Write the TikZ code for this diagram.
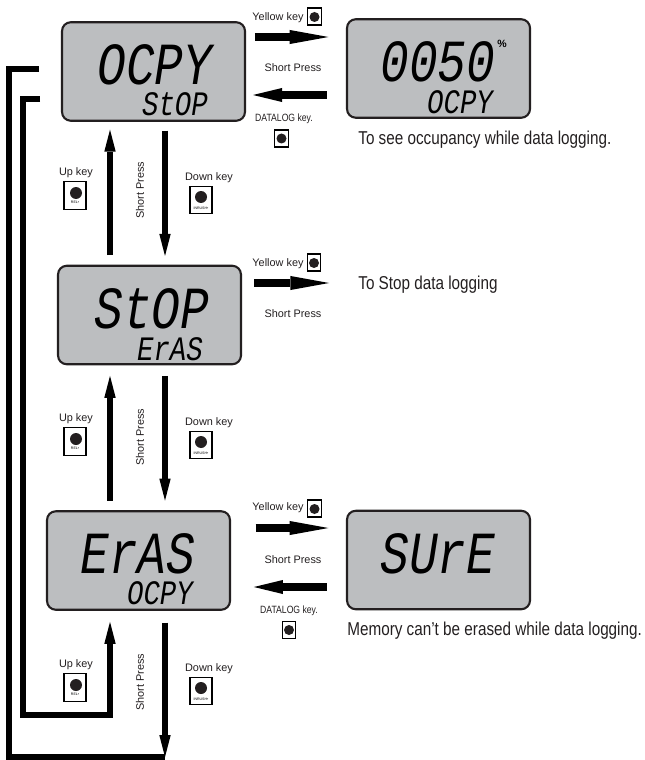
\documentclass[tikz,border=0pt]{standalone}
\usepackage{fontspec}
\setmainfont{Liberation Sans}
\newfontfamily\lcdfont[FakeStretch=0.8]{Liberation Mono}
\newfontfamily\notefont[FakeStretch=0.82]{Liberation Sans}
\usetikzlibrary{arrows.meta, positioning, calc}
\definecolor{lcdgray}{HTML}{BCBEC0}
\definecolor{inkgray}{HTML}{231F20}
\tikzset{
  lcdbox/.style={draw=inkgray, line width=1.2pt, fill=lcdgray, rounded corners=5pt, minimum width=3.66cm, minimum height=1.97cm, inner sep=0pt},
  lcdbig/.style={inner sep=0pt, text height=23pt, text depth=0pt, font=\lcdfont\itshape\fontsize{34}{34}\selectfont},
  lcdsmall/.style={inner sep=0pt, text height=13.5pt, text depth=0pt, font=\lcdfont\itshape\fontsize{19.5}{19.5}\selectfont},
  keylabel/.style={inner sep=0pt, text=inkgray, font=\fontsize{6.2}{7}\selectfont},
  datalabel/.style={inner sep=0pt, text=inkgray, font=\notefont\fontsize{6}{7}\selectfont},
  notelabel/.style={inner sep=0pt, anchor=west, text=inkgray, font=\notefont\fontsize{10.6}{12}\selectfont},
  smallkey/.style={draw=black, line width=0.7pt, fill=white, minimum width=0.27cm, minimum height=0.34cm, inner sep=0pt},
  bigkey/.style={draw=black, line width=0.6pt, fill=white, minimum width=0.44cm, minimum height=0.55cm, inner sep=0pt},
  smalldot/.style={circle, fill=inkgray, minimum size=0.2cm, inner sep=0pt},
  bigdot/.style={circle, fill=inkgray, minimum size=0.24cm, inner sep=0pt},
  tinylabel/.style={inner sep=0pt, font=\fontsize{2}{2}\selectfont},
  flowright/.style={-{Triangle[length=22pt, width=8pt, line width=0pt]}, line width=4pt},
  flowleft/.style={-{Triangle[length=16.5pt, width=8pt, line width=0pt]}, line width=4pt},
  flowvert/.style={-{Triangle[length=12.5pt, width=6.5pt, line width=0pt]}, line width=3.2pt},
  flowline/.style={line width=3pt, line join=miter}
}

\begin{document}
\begin{tikzpicture}[x=0.02cm, y=-0.02cm]
  \useasboundingbox (0,0) rectangle (645,760);

  % Displays
  \node[lcdbox] (lcdOcpy) at (153.5,71.5) {};
  \node[lcdbox] (lcdLevel) at (438.5,68.5) {};
  \node[lcdbox] (lcdStop) at (149.5,315) {};
  \node[lcdbox] (lcdEras) at (138.5,560.5) {};
  \node[lcdbox] (lcdSure) at (438.5,560) {};

  \node[lcdbig] (bigOcpy) at (155,64) {OCPY};
  \node[lcdsmall] (smallStop) at (175,104) {StOP};
  \node[lcdbig] (bigLevel) at (438,61) {0050};
  \node[inner sep=0pt, font=\bfseries\fontsize{6}{6}\selectfont] (pctLevel) at (502,44) {\%};
  \node[lcdsmall] (smallOcpy) at (460,102) {OCPY};
  \node[lcdbig] (bigStop) at (152,308) {StOP};
  \node[lcdsmall] (smallEras) at (170,349) {ErAS};
  \node[lcdbig] (bigEras) at (138,553) {ErAS};
  \node[lcdsmall] (smallOcpyB) at (160,593) {OCPY};
  \node[lcdbig] (bigSure) at (438,553) {SUrE};

  % Rows and columns of the arrows
  \coordinate (upx) at (110,0);
  \coordinate (downx) at (165,0);
  \coordinate (rowA) at (0,37);
  \coordinate (rowB) at (0,95);
  \coordinate (rowC) at (0,283);
  \coordinate (rowD) at (0,528);
  \coordinate (rowE) at (0,587);

  % Notes
  \node[notelabel] (noteOcpy) at (358,140) {To see occupancy while data logging.};
  \node[notelabel] (noteStop) at (358,285) {To Stop data logging};
  \node[notelabel] (noteSure) at (347,631) {Memory can’t be erased while data logging.};

  % Top row
  \draw[flowright, shorten <=5pt, shorten >=10pt] (lcdOcpy.east |- rowA) -- (lcdLevel.west |- rowA);
  \draw[flowleft, shorten <=11pt, shorten >=4pt] (lcdLevel.west |- rowB) -- (lcdOcpy.east |- rowB);
  \node[keylabel] (yellowA) at (278,18) {Yellow key};
  \node[smallkey] (ykeyA) at (314.5,16.5) {};
  \node[smalldot] (ydotA) at (314.5,17) {};
  \node[keylabel] (pressA) at (293,68) {Short Press};
  \node[datalabel] (datalogA) at (284,119) {DATALOG key.};
  \node[smallkey] (dkeyA) at (281.5,138.5) {};
  \node[smalldot] (ddotA) at (281.5,138.5) {};

  % Middle row
  \draw[flowright, shorten <=7pt, shorten >=16.5pt] (lcdStop.east |- rowC) -- (noteStop.west |- rowC);
  \node[keylabel] (yellowB) at (278,264) {Yellow key};
  \node[smallkey] (ykeyB) at (314,262.5) {};
  \node[smalldot] (ydotB) at (314,263) {};
  \node[keylabel] (pressB) at (293,314) {Short Press};

  % Bottom row
  \draw[flowright, shorten <=14pt, shorten >=10pt] (lcdEras.east |- rowD) -- (lcdSure.west |- rowD);
  \draw[flowleft, shorten <=11pt, shorten >=13pt] (lcdSure.west |- rowE) -- (lcdEras.east |- rowE);
  \node[keylabel] (yellowC) at (278,508) {Yellow key};
  \node[smallkey] (ykeyC) at (314.5,508.5) {};
  \node[smalldot] (ydotC) at (314.5,509) {};
  \node[keylabel] (pressC) at (293,560) {Short Press};
  \node[datalabel] (datalogC) at (289,611) {DATALOG key.};
  \node[smallkey] (dkeyC) at (289,630) {};
  \node[smalldot] (ddotC) at (289,630) {};

  % Up and down between displays
  \draw[flowvert, shorten <=5.5pt, shorten >=4.5pt] (upx |- lcdStop.north) -- (upx |- lcdOcpy.south);
  \draw[flowvert, shorten <=5pt, shorten >=5pt] (downx |- lcdOcpy.south) -- (downx |- lcdStop.north);
  \draw[flowvert, shorten <=5.5pt, shorten >=6pt] (upx |- lcdEras.north) -- (upx |- lcdStop.south);
  \draw[flowvert, shorten <=6pt, shorten >=5.5pt] (downx |- lcdStop.south) -- (downx |- lcdEras.north);

  \node[keylabel, rotate=90] (pressUpA) at (140,190) {Short Press};
  \node[keylabel, rotate=90] (pressUpB) at (140,437) {Short Press};
  \node[keylabel, rotate=90] (pressUpC) at (140,682) {Short Press};

  % Key boxes beside the arrows
  \foreach \keyname/\ky in {A/173, B/419, C/665} {
    \node[keylabel] (upLabel\keyname) at (76,\ky) {Up key};
    \node[bigkey] (upKey\keyname) at (75,\ky+22.5) {};
    \node[bigdot] (upDot\keyname) at (76,\ky+20) {};
    \node[tinylabel] (upTiny\keyname) at (75,\ky+29.5) {REL\textbullet};
  }
  \foreach \keyname/\ky in {A/178, B/423, C/669} {
    \node[keylabel] (downLabel\keyname) at (209,\ky) {Down key};
    \node[bigkey] (downKey\keyname) at (201,\ky+22) {};
    \node[bigdot] (downDot\keyname) at (201,\ky+19) {};
    \node[tinylabel] (downTiny\keyname) at (201,\ky+30) {INRUSH\textbullet};
  }

  % Return lines on the left
  \coordinate (innerTop) at (40,99);
  \coordinate (innerLow) at (23,715);
  \coordinate (outerTop) at (39,69);
  \coordinate (outerLow) at (9,757);
  \coordinate (downEnd) at (165,757);
  \draw[flowline] (outerTop) -| (outerLow) -- (downEnd);
  \draw[flowline] (innerTop) -| (innerLow) -- (upx |- innerLow);
  \draw[flowvert, shorten <=-1.5pt, shorten >=6.3pt] (upx |- innerLow) -- (upx |- lcdEras.south);
  \draw[flowvert, shorten <=6.8pt] (downx |- lcdEras.south) -- (downEnd);
\end{tikzpicture}
\end{document}
